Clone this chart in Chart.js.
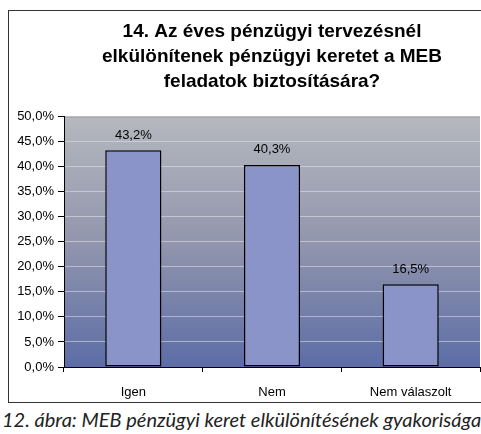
<!DOCTYPE html>
<html>
<head>
<meta charset="utf-8">
<script src="https://cdn.jsdelivr.net/npm/chart.js@4"></script>
<style>
  body { margin: 0; width: 481px; height: 434px; overflow: hidden; background: #fff; position: relative; }
  #wrap { position: absolute; left: 0; top: 0; width: 481px; height: 404px; }
  #frame { position: absolute; left: 8px; top: 10px; width: 490px; height: 391px; border: 1px solid #333; }
  #caption { position: absolute; left: 2px; top: 407px; white-space: nowrap;
    font-family: Lato, "Open Sans", sans-serif; font-style: italic; font-size: 18px; color: #222; }
</style>
</head>
<body>
<div id="frame"></div>
<div id="wrap"><canvas id="bar-chart" width="481" height="404"></canvas></div>
<div id="caption">12. ábra: MEB pénzügyi keret elkülönítésének gyakorisága</div>
<script>
var categories = ["Igen", "Nem", "Nem válaszolt"];
var values = [43.2, 40.3, 16.5];
var titleLines = ["14. Az éves pénzügyi tervezésnél", "elkülönítenek pénzügyi keretet a MEB", "feladatok biztosítására?"];

function pct(v) {
  return v.toFixed(1).replace(".", ",") + "%";
}

// gray-to-blue plot background like the Excel original
var plotBackground = {
  id: "plotBackground",
  beforeDraw: function(chart) {
    var a = chart.chartArea, ctx = chart.ctx;
    var g = ctx.createLinearGradient(0, a.top, 0, a.bottom);
    g.addColorStop(0, "#b5b8be");
    g.addColorStop(0.5, "#9296ad");
    g.addColorStop(1, "#5c6da6");
    ctx.save();
    ctx.fillStyle = g;
    ctx.fillRect(a.left, a.top, a.right - a.left, a.bottom - a.top);
    ctx.strokeStyle = "#7d8188";
    ctx.lineWidth = 1;
    ctx.beginPath();
    ctx.moveTo(a.left, a.top + 0.5);
    ctx.lineTo(a.right, a.top + 0.5);
    ctx.stroke();
    ctx.restore();
  }
};

var valueLabels = {
  id: "valueLabels",
  afterDatasetsDraw: function(chart) {
    var ctx = chart.ctx;
    var meta = chart.getDatasetMeta(0);
    ctx.save();
    ctx.font = "13px 'Liberation Sans', Arial, sans-serif";
    ctx.fillStyle = "#000";
    ctx.textAlign = "center";
    ctx.textBaseline = "middle";
    meta.data.forEach(function(bar, i) {
      ctx.fillText(pct(values[i]), bar.x, bar.y - 15);
    });
    ctx.restore();
  }
};

// make the caption fill the same width as in the picture
var cap = document.getElementById("caption");
var size = 18;
while (cap.offsetWidth > 477 && size > 10) { size -= 0.25; cap.style.fontSize = size + "px"; }
while (cap.offsetWidth < 474 && size < 24) { size += 0.25; cap.style.fontSize = size + "px"; }

var chart = new Chart(document.getElementById("bar-chart"), {
  type: "bar",
  data: {
    labels: categories,
    datasets: [{
      data: values,
      backgroundColor: "#8b94c9",
      borderColor: "#000",
      borderWidth: 1.5,
      borderSkipped: false,
      categoryPercentage: 1,
      barPercentage: 0.405
    }]
  },
  plugins: [plotBackground, valueLabels],
  options: {
    responsive: false,
    animation: false,
    layout: { padding: { left: 0, right: 1, top: 0, bottom: 0 } },
    plugins: {
      legend: { display: false },
      tooltip: { enabled: false },
      title: {
        display: true,
        fullSize: false,
        text: titleLines,
        color: "#000",
        font: { family: "'Liberation Sans', Arial, sans-serif", size: 19, weight: "bold", lineHeight: 1.32 },
        padding: { top: 19, bottom: 22 }
      }
    },
    scales: {
      x: {
        afterFit: function(scale) { scale.height = 37; },
        grid: { offset: true, drawOnChartArea: false, tickLength: 5, tickColor: "#000" },
        border: { color: "#000", width: 1 },
        ticks: { color: "#000", padding: 13, font: { family: "'Liberation Sans', Arial, sans-serif", size: 13 } }
      },
      y: {
        min: 0,
        max: 50,
        afterFit: function(scale) { scale.width = 64; },
        ticks: {
          stepSize: 5,
          color: "#000",
          padding: 4,
          font: { family: "'Liberation Sans', Arial, sans-serif", size: 13 },
          callback: function(v) { return pct(v); }
        },
        grid: { color: "rgba(225,228,236,0.55)", tickLength: 6, tickColor: "#000" },
        border: { color: "#000", width: 1 }
      }
    }
  }
});
</script>
</body>
</html>
